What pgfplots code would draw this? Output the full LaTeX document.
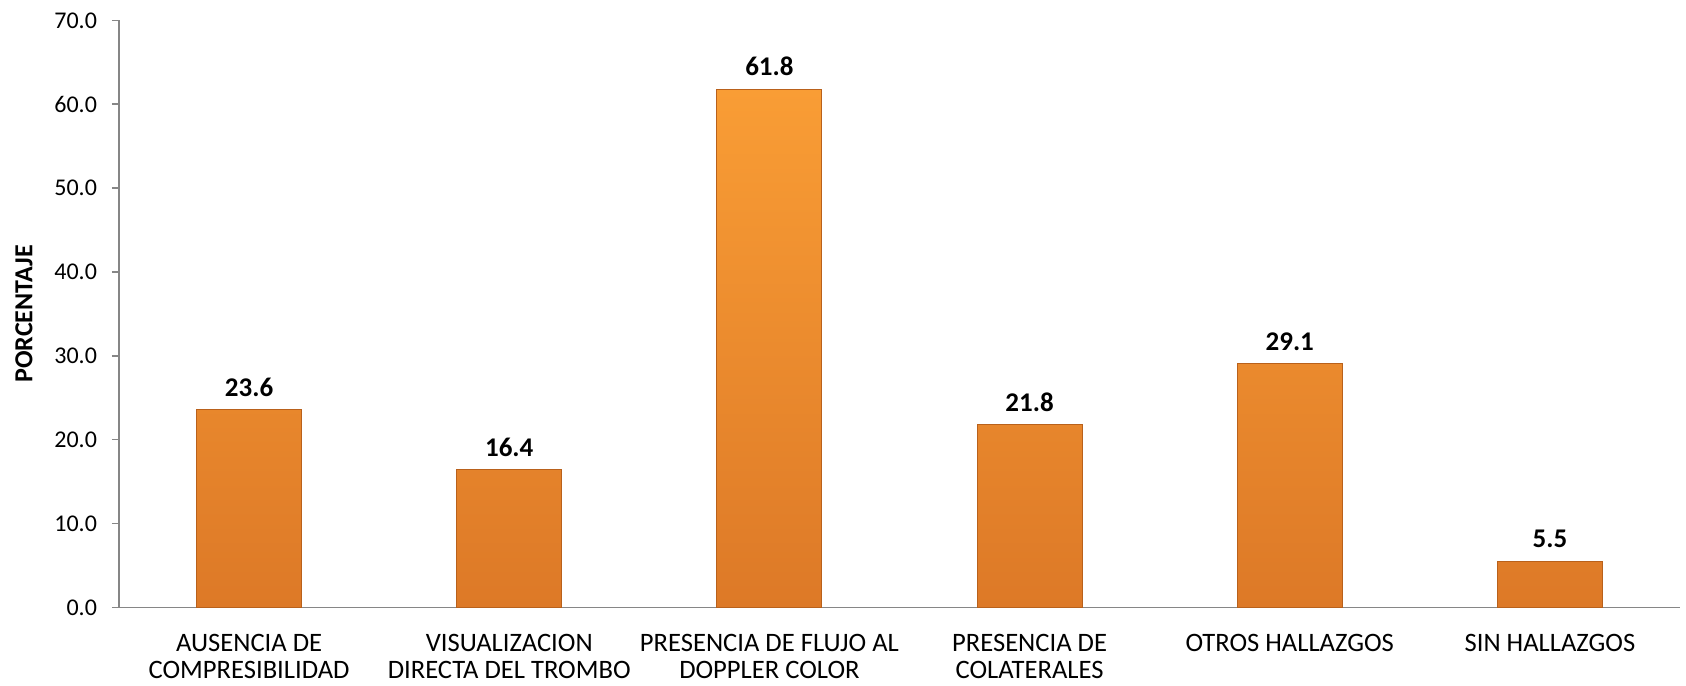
\documentclass[border=0pt]{standalone}
\usepackage{pgfplots}
\pgfplotsset{compat=1.18}
\usepackage{fontspec}
\setmainfont{Carlito}
\definecolor{axisgray}{HTML}{868686}
\definecolor{bartop}{HTML}{F99D35}
\definecolor{barbot}{HTML}{DD7927}
\definecolor{baredge}{HTML}{B9611B}
\begin{document}
\begin{tikzpicture}
\begin{axis}[
  name=ax,
  at={(0,0)}, anchor=south west,
  width=780.5pt, height=293.5pt,
  scale only axis,
  xmin=-0.5, xmax=5.5,
  ymin=0, ymax=70,
  ytick={0,10,...,70},
  axis lines=left,
  axis line style={-, draw=axisgray, line width=0.8pt},
  tick style={draw=axisgray, line width=0.8pt},
  tick align=outside,
  major tick length=3.5pt,
  xtick={0,1,2,3,4,5},
  x tick style={draw=none},
  extra x ticks={-0.5,0.5,1.5,2.5,3.5,4.5,5.5},
  extra x tick labels={},
  extra x tick style={tick style={draw=axisgray, line width=0.8pt}, major tick length=5pt},
  xticklabels={{AUSENCIA DE\\COMPRESIBILIDAD},{VISUALIZACION\\DIRECTA DEL TROMBO},{PRESENCIA DE FLUJO AL\\DOPPLER COLOR},{PRESENCIA DE\\COLATERALES},{OTROS HALLAZGOS},{SIN HALLAZGOS}},
  xticklabel style={align=center, font=\fontsize{13.3}{13.2}\selectfont, anchor=north, yshift=-6.5pt},
  yticklabel style={font=\fontsize{12}{13}\selectfont, xshift=-4pt},
  /pgf/number format/assume math mode=true,
  yticklabel={\pgfmathprintnumber[fixed,fixed zerofill,precision=1]{\tick}},
  ylabel={PORCENTAJE},
  every axis y label/.style={at={(axis description cs:-0.0609,0.5)}, rotate=90, anchor=center, font=\fontsize{13}{14}\selectfont\bfseries},
  ybar, bar width=52.5pt,
  nodes near coords={\pgfmathprintnumber[fixed,fixed zerofill,precision=1]{\pgfplotspointmeta}},
  every node near coord/.append style={font=\fontsize{13.5}{15}\selectfont\bfseries, black, yshift=3pt},
  clip=false,
]
\addplot[draw=baredge, line width=0.5pt, top color=bartop, bottom color=barbot] coordinates {
  (0,23.6) (1,16.4) (2,61.8) (3,21.8) (4,29.1) (5,5.5)
};
\end{axis}
\pgfresetboundingbox
\path (ax.south west) ++(-59.5pt,-39.25pt) coordinate (bl);
\path (ax.north east) ++(3pt,10.2pt) coordinate (tr);
\path (bl) rectangle (tr);
\end{tikzpicture}
\end{document}
